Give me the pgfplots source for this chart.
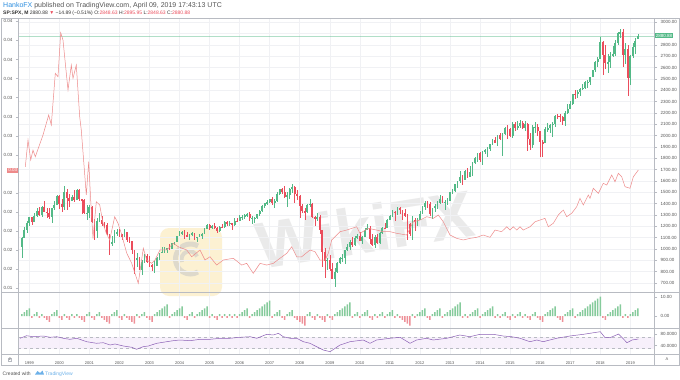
\documentclass[border=0pt]{standalone}
\usepackage{pgfplots}
\pgfplotsset{compat=1.18}
\usepackage{pgfplotstable}
\usepackage{fontspec}
\setmainfont{Liberation Sans}
\definecolor{upc}{HTML}{53B987}
\definecolor{dnc}{HTML}{EB4D5C}
\definecolor{redl}{HTML}{EE8A8A}
\definecolor{histg}{HTML}{86CB9C}
\definecolor{histr}{HTML}{EE9098}
\definecolor{rsil}{HTML}{8A5FB5}
\definecolor{rsib}{HTML}{F6EEFB}
\definecolor{gridc}{HTML}{F0F1F4}
\definecolor{framec}{HTML}{B8BBC2}
\definecolor{labc}{HTML}{555555}
\definecolor{tvblue}{HTML}{2E8FE0}
\definecolor{wmy}{HTML}{FBE6AE}

\pgfplotstableread{
yr mo o h l c s
1998 10 1017 1103 923 1099 1
1998 11 1099 1193 1095 1164 2
1998 12 1164 1245 1137 1229 3
1999 1 1229 1280 1205 1280 4
1999 2 1280 1285 1208 1238 -1
1999 3 1238 1317 1234 1286 1
1999 4 1286 1362 1284 1335 2
1999 5 1335 1372 1288 1302 -1
1999 6 1302 1376 1278 1373 1
1999 7 1373 1419 1328 1329 -1
1999 8 1329 1360 1270 1320 -2
1999 9 1320 1357 1268 1283 -3
1999 10 1283 1363 1233 1363 1
1999 11 1363 1425 1347 1389 2
1999 12 1389 1474 1387 1469 3
2000 1 1469 1479 1350 1394 -1
2000 2 1394 1444 1325 1366 -2
2000 3 1366 1553 1339 1499 1
2000 4 1499 1527 1339 1452 -1
2000 5 1452 1481 1374 1421 -2
2000 6 1421 1475 1420 1455 1
2000 7 1455 1517 1414 1431 -1
2000 8 1431 1525 1431 1518 1
2000 9 1518 1531 1420 1437 -1
2000 10 1437 1437 1305 1429 -2
2000 11 1429 1439 1305 1315 -3
2000 12 1315 1389 1255 1320 1
2001 1 1320 1384 1275 1366 2
2001 2 1366 1376 1228 1240 -1
2001 3 1240 1268 1081 1160 -2
2001 4 1160 1269 1092 1249 1
2001 5 1249 1316 1240 1256 2
2001 6 1256 1287 1203 1224 -1
2001 7 1224 1239 1183 1211 -2
2001 8 1211 1226 1124 1134 -3
2001 9 1134 1134 945 1041 -4
2001 10 1041 1111 1026 1060 1
2001 11 1060 1163 1054 1139 2
2001 12 1139 1173 1115 1148 3
2002 1 1148 1176 1101 1130 -1
2002 2 1130 1131 1075 1107 -2
2002 3 1107 1173 1107 1147 1
2002 4 1147 1147 1063 1077 -1
2002 5 1077 1107 1049 1067 -2
2002 6 1067 1070 953 990 -3
2002 7 990 994 775 912 -4
2002 8 912 965 838 916 1
2002 9 916 925 815 815 -1
2002 10 815 900 768 886 1
2002 11 886 951 872 936 2
2002 12 936 954 872 880 -1
2003 1 880 935 840 856 -2
2003 2 856 864 806 841 -3
2003 3 841 895 789 848 1
2003 4 848 925 847 917 2
2003 5 917 965 902 964 3
2003 6 964 1015 963 975 4
2003 7 975 1015 962 990 5
2003 8 990 1011 960 1008 6
2003 9 1008 1040 988 996 -1
2003 10 996 1054 996 1051 1
2003 11 1051 1063 1031 1058 2
2003 12 1058 1112 1058 1112 3
2004 1 1112 1155 1110 1131 4
2004 2 1131 1159 1124 1145 5
2004 3 1145 1164 1087 1126 -1
2004 4 1126 1151 1107 1107 -2
2004 5 1107 1128 1076 1121 1
2004 6 1121 1146 1113 1141 2
2004 7 1141 1141 1078 1102 -1
2004 8 1102 1109 1060 1104 1
2004 9 1104 1131 1102 1115 2
2004 10 1115 1142 1090 1130 3
2004 11 1130 1188 1128 1174 4
2004 12 1174 1218 1174 1212 5
2005 1 1212 1218 1163 1181 -1
2005 2 1181 1212 1180 1204 1
2005 3 1204 1229 1176 1181 -1
2005 4 1181 1192 1137 1157 -2
2005 5 1157 1199 1146 1192 1
2005 6 1192 1219 1188 1191 -1
2005 7 1191 1245 1184 1234 1
2005 8 1234 1245 1201 1220 -1
2005 9 1220 1243 1206 1229 1
2005 10 1229 1233 1168 1207 -1
2005 11 1207 1270 1202 1249 1
2005 12 1249 1276 1246 1248 -1
2006 1 1248 1295 1245 1280 1
2006 2 1280 1297 1253 1281 2
2006 3 1281 1310 1268 1295 3
2006 4 1295 1319 1280 1311 4
2006 5 1311 1327 1245 1270 -1
2006 6 1270 1287 1219 1271 1
2006 7 1271 1283 1225 1277 2
2006 8 1277 1307 1264 1304 3
2006 9 1304 1340 1291 1336 4
2006 10 1336 1389 1326 1378 5
2006 11 1378 1407 1363 1401 6
2006 12 1401 1432 1386 1418 7
2007 1 1418 1442 1405 1438 8
2007 2 1438 1462 1390 1407 -1
2007 3 1407 1439 1364 1421 1
2007 4 1421 1499 1416 1482 2
2007 5 1482 1533 1476 1531 3
2007 6 1531 1541 1484 1503 -1
2007 7 1503 1556 1450 1455 -2
2007 8 1455 1504 1371 1474 1
2007 9 1474 1539 1439 1527 2
2007 10 1527 1576 1490 1549 3
2007 11 1549 1555 1407 1481 -1
2007 12 1481 1523 1435 1468 -2
2008 1 1468 1472 1271 1379 -3
2008 2 1379 1396 1317 1331 -4
2008 3 1331 1359 1257 1323 -5
2008 4 1323 1396 1315 1386 1
2008 5 1386 1441 1373 1400 2
2008 6 1400 1405 1272 1280 -1
2008 7 1280 1292 1200 1267 -2
2008 8 1267 1314 1248 1283 1
2008 9 1283 1303 1134 1166 -1
2008 10 1166 1168 840 969 -2
2008 11 969 1007 741 896 -3
2008 12 896 919 815 903 1
2009 1 903 944 805 826 -1
2009 2 826 876 735 735 -2
2009 3 735 832 667 798 1
2009 4 798 888 783 873 2
2009 5 873 930 867 919 3
2009 6 919 957 888 920 4
2009 7 920 993 870 987 5
2009 8 987 1040 979 1021 6
2009 9 1021 1081 991 1057 7
2009 10 1057 1101 1020 1036 -1
2009 11 1036 1113 1029 1096 1
2009 12 1096 1130 1086 1115 2
2010 1 1115 1151 1071 1074 -1
2010 2 1074 1113 1045 1104 1
2010 3 1104 1181 1102 1169 2
2010 4 1169 1220 1167 1187 3
2010 5 1187 1206 1040 1089 -1
2010 6 1089 1131 1028 1031 -2
2010 7 1031 1120 1011 1102 1
2010 8 1102 1130 1040 1049 -1
2010 9 1049 1149 1040 1141 1
2010 10 1141 1196 1131 1183 2
2010 11 1183 1227 1174 1181 -1
2010 12 1181 1263 1181 1258 1
2011 1 1258 1303 1257 1286 2
2011 2 1286 1345 1284 1327 3
2011 3 1327 1332 1249 1326 -1
2011 4 1326 1366 1295 1364 1
2011 5 1364 1371 1311 1345 -1
2011 6 1345 1346 1258 1321 -2
2011 7 1321 1356 1282 1292 -3
2011 8 1292 1307 1075 1219 -4
2011 9 1219 1230 1114 1131 -5
2011 10 1131 1292 1075 1253 1
2011 11 1253 1277 1159 1247 -1
2011 12 1247 1269 1202 1258 1
2012 1 1258 1333 1258 1312 2
2012 2 1312 1378 1311 1366 3
2012 3 1366 1419 1340 1408 4
2012 4 1408 1422 1357 1398 -1
2012 5 1398 1415 1292 1310 -2
2012 6 1310 1364 1267 1362 1
2012 7 1362 1392 1325 1379 2
2012 8 1379 1426 1355 1407 3
2012 9 1407 1475 1397 1441 4
2012 10 1441 1470 1403 1412 -1
2012 11 1412 1434 1343 1416 1
2012 12 1416 1448 1385 1426 2
2013 1 1426 1504 1426 1498 3
2013 2 1498 1531 1486 1515 4
2013 3 1515 1570 1502 1569 5
2013 4 1569 1598 1536 1598 6
2013 5 1598 1688 1581 1631 7
2013 6 1631 1654 1560 1606 -1
2013 7 1606 1698 1605 1686 1
2013 8 1686 1710 1628 1633 -1
2013 9 1633 1730 1633 1682 1
2013 10 1682 1766 1646 1757 2
2013 11 1757 1813 1747 1806 3
2013 12 1806 1849 1768 1848 4
2014 1 1848 1851 1770 1783 -1
2014 2 1783 1867 1738 1859 1
2014 3 1859 1884 1834 1872 2
2014 4 1872 1897 1814 1884 3
2014 5 1884 1925 1860 1924 4
2014 6 1924 1968 1915 1960 5
2014 7 1960 1992 1931 1931 -1
2014 8 1931 2006 1905 2003 1
2014 9 2003 2019 1965 1972 -1
2014 10 1972 2019 1821 2018 1
2014 11 2018 2075 2001 2068 2
2014 12 2068 2094 1972 2059 -1
2015 1 2059 2065 1988 1995 -2
2015 2 1995 2120 1981 2105 1
2015 3 2105 2118 2040 2068 -1
2015 4 2068 2126 2048 2086 1
2015 5 2086 2135 2067 2107 2
2015 6 2107 2130 2056 2063 -1
2015 7 2063 2133 2044 2104 1
2015 8 2104 2113 1867 1972 -1
2015 9 1972 2021 1872 1920 -2
2015 10 1920 2094 1893 2079 1
2015 11 2079 2117 2019 2080 2
2015 12 2080 2104 1993 2044 -1
2016 1 2044 2044 1812 1940 -2
2016 2 1940 1962 1810 1932 -3
2016 3 1932 2073 1931 2060 1
2016 4 2060 2111 2034 2065 2
2016 5 2065 2103 2025 2097 3
2016 6 2097 2121 1992 2099 4
2016 7 2099 2178 2075 2174 5
2016 8 2174 2194 2148 2171 -1
2016 9 2171 2188 2120 2168 -2
2016 10 2168 2169 2097 2126 -3
2016 11 2126 2214 2084 2199 1
2016 12 2199 2278 2187 2239 2
2017 1 2239 2301 2234 2279 3
2017 2 2279 2371 2272 2364 4
2017 3 2364 2401 2322 2363 -1
2017 4 2363 2399 2329 2384 1
2017 5 2384 2419 2352 2412 2
2017 6 2412 2454 2405 2423 3
2017 7 2423 2484 2408 2470 4
2017 8 2470 2491 2417 2472 5
2017 9 2472 2519 2446 2519 6
2017 10 2519 2582 2519 2575 7
2017 11 2575 2657 2557 2648 8
2017 12 2648 2695 2605 2674 9
2018 1 2674 2873 2674 2824 10
2018 2 2824 2836 2533 2714 -1
2018 3 2714 2801 2586 2641 -2
2018 4 2641 2718 2553 2648 1
2018 5 2648 2742 2595 2705 2
2018 6 2705 2791 2698 2718 3
2018 7 2718 2848 2699 2816 4
2018 8 2816 2916 2796 2902 5
2018 9 2902 2941 2865 2914 6
2018 10 2914 2940 2604 2712 -1
2018 11 2712 2816 2631 2760 1
2018 12 2760 2800 2346 2507 -1
2019 1 2507 2708 2444 2704 1
2019 2 2704 2813 2681 2784 2
2019 3 2784 2860 2723 2834 3
2019 4 2848.63 2895.95 2848.63 2880.88 4
}\spx

\pgfplotstableread{
t v
1998.867 0.02675
1998.957 0.02955
1999.047 0.02746
1999.123 0.02850
1999.200 0.02780
1999.456 0.03008
1999.646 0.03218
1999.732 0.03113
1999.865 0.03655
1999.955 0.03619
2000.045 0.04081
2000.121 0.04004
2000.288 0.03480
2000.398 0.03742
2000.454 0.03602
2000.564 0.03742
2000.677 0.03200
2000.730 0.03060
2000.897 0.02379
2000.977 0.02728
2001.043 0.02326
2001.120 0.01924
2001.230 0.02308
2001.343 0.02274
2001.453 0.02082
2001.562 0.01977
2001.676 0.01907
2001.842 0.02151
2001.952 0.02082
2002.062 0.01977
2002.241 0.01770
2002.408 0.01662
2002.627 0.01452
2002.794 0.01820
2002.907 0.01697
2003.073 0.01662
2003.183 0.01697
2003.349 0.01802
2003.572 0.01802
2003.792 0.01872
2003.958 0.01836
2004.238 0.01802
2004.404 0.01731
2004.681 0.01802
2004.847 0.01697
2005.013 0.01731
2005.236 0.01644
2005.456 0.01697
2005.789 0.01715
2006.068 0.01644
2006.235 0.01662
2006.454 0.01557
2006.677 0.01662
2006.900 0.01644
2007.120 0.01662
2007.343 0.01715
2007.566 0.01767
2007.732 0.01836
2007.899 0.01731
2008.065 0.01731
2008.341 0.01802
2008.507 0.01784
2008.674 0.01697
2008.840 0.01697
2008.950 0.01767
2009.063 0.01907
2009.339 0.01994
2009.562 0.02011
2009.895 0.02046
2010.005 0.01977
2010.281 0.02029
2010.561 0.02011
2010.780 0.01994
2011.003 0.01994
2011.226 0.01977
2011.559 0.01959
2011.779 0.02098
2012.002 0.02116
2012.225 0.02151
2012.444 0.02134
2012.611 0.02169
2012.777 0.02098
2013.000 0.01959
2013.223 0.01924
2013.443 0.01907
2013.666 0.01924
2013.889 0.01935
2014.108 0.01959
2014.331 0.01935
2014.498 0.02011
2014.720 0.01994
2014.887 0.02046
2014.997 0.02011
2015.106 0.02046
2015.220 0.02011
2015.329 0.02046
2015.439 0.02011
2015.662 0.02046
2015.829 0.02098
2015.995 0.02116
2016.161 0.02134
2016.271 0.02046
2016.438 0.02082
2016.604 0.02169
2016.771 0.02221
2016.884 0.02151
2017.050 0.02187
2017.216 0.02256
2017.326 0.02344
2017.436 0.02274
2017.602 0.02379
2017.659 0.02344
2017.769 0.02449
2017.935 0.02396
2018.101 0.02501
2018.215 0.02483
2018.381 0.02588
2018.491 0.02518
2018.601 0.02606
2018.714 0.02570
2018.824 0.02466
2018.990 0.02449
2019.101 0.02570
2019.268 0.02641
}\ratio

\pgfplotstableread{
t r
1998.69 64.7
1998.91 73.3
1999.13 70
1999.47 72.3
1999.69 68
1999.91 70
2000.13 64.7
2000.35 61.3
2000.58 64.7
2000.91 53.3
2001.24 48
2001.46 50
2001.69 42.3
2001.85 45.7
2002.13 39
2002.41 34.7
2002.57 28
2002.79 36.7
2002.96 39
2003.24 48
2003.57 53.3
2003.79 56.7
2004.01 59
2004.35 56.7
2004.68 61.3
2005.01 61.3
2005.35 64.7
2005.68 64.7
2006.01 68
2006.35 70
2006.57 64.7
2006.90 78
2007.12 75.7
2007.29 81.3
2007.45 70
2007.68 64.7
2007.90 64.7
2008.12 53.3
2008.34 48
2008.56 36.7
2008.78 25.7
2009.01 20
2009.34 42.3
2009.67 53.3
2010.11 59
2010.34 48
2010.56 59
2011.00 64.7
2011.34 68
2011.67 48
2011.89 59
2012.22 64.7
2012.44 59
2012.89 64.7
2013.33 75.7
2013.66 70
2014.00 78
2014.44 78
2014.77 72.3
2015.05 70
2015.33 64.7
2015.66 53.3
2015.89 59
2016.10 53.3
2016.55 64.7
2016.99 72.3
2017.44 78
2018.00 86.7
2018.16 66.7
2018.33 66.7
2018.61 79
2018.89 50
2019.06 59
2019.27 62.3
}\rsi

\pgfplotsset{
  tvpanel/.style={
    scale only axis, width=636.4pt, anchor=south west,
    xmin=1998.634, xmax=2019.812,
    axis line style={draw=none},
    xtick={1999,2000,...,2019}, xticklabels={}, xtick style={draw=none},
    ytick style={draw=framec, line width=0.4pt},
    major tick length=2.5pt, tick align=outside,
    yticklabel style={font=\fontsize{4.5}{5}\selectfont, text=labc},
    /pgf/number format/assume math mode=true,
    scaled y ticks=false,
    grid style={draw=gridc, line width=0.5pt},
  },
  candle/.style 2 args={draw=none, no markers, forget plot,
    error bars/y dir=both, error bars/y explicit, error bars/error mark=none,
    error bars/error bar style={draw=#1, solid, line width=#2}},
}

\begin{document}
\begin{tikzpicture}
\useasboundingbox (0,0) rectangle (680pt,-380pt);
\fill[white] (0,0) rectangle (680pt,-380pt);

% watermark
\begin{scope}[opacity=0.55]
\fill[wmy, rounded corners=9pt] (160pt,-228pt) rectangle (222pt,-296pt);
\draw[gray!45, line width=5pt] (198pt,-246pt) arc (60:300:15pt);
\draw[gray!45, line width=4pt] (182pt,-262pt) arc (200:20:8pt);
\node[rotate=9, font=\fontsize{66}{66}\selectfont\bfseries, text=gray!30] at (365pt,-229pt) {WikiFX};
\end{scope}

% main price panel
\begin{axis}[tvpanel, at={(18.3pt,-292.7pt)}, height=274.2pt,
  ymin=613.4, ymax=3033.5,
  xmajorgrids, ymajorgrids,
  ytick={700,800,...,2800,3000},
  extra y ticks={2900}, extra y tick labels={},
  ytick pos=right, yticklabel pos=right,
  yticklabel style={/pgf/number format/.cd, fixed, fixed zerofill, precision=2, 1000 sep={}},
  clip mode=individual]
\addplot[draw=upc, draw opacity=0.45, line width=0.4pt, forget plot] coordinates {(1998.634,2880.88) (2019.812,2880.88)};
% wicks
\addplot[candle={upc}{0.5pt}, restrict expr to domain={\thisrow{c}-\thisrow{o}}{0:100000}]
  table[x expr=\thisrow{yr}+(\thisrow{mo}-1)/12, y expr=(\thisrow{h}+\thisrow{l})/2, y error expr=(\thisrow{h}-\thisrow{l})/2] {\spx};
\addplot[candle={dnc}{0.5pt}, restrict expr to domain={\thisrow{c}-\thisrow{o}}{-100000:-0.001}]
  table[x expr=\thisrow{yr}+(\thisrow{mo}-1)/12, y expr=(\thisrow{h}+\thisrow{l})/2, y error expr=(\thisrow{h}-\thisrow{l})/2] {\spx};
% bodies
\addplot[candle={upc}{1.8pt}, restrict expr to domain={\thisrow{c}-\thisrow{o}}{0:100000}]
  table[x expr=\thisrow{yr}+(\thisrow{mo}-1)/12, y expr=(\thisrow{o}+\thisrow{c})/2, y error expr=abs(\thisrow{c}-\thisrow{o})/2] {\spx};
\addplot[candle={dnc}{1.8pt}, restrict expr to domain={\thisrow{c}-\thisrow{o}}{-100000:-0.001}]
  table[x expr=\thisrow{yr}+(\thisrow{mo}-1)/12, y expr=(\thisrow{o}+\thisrow{c})/2, y error expr=abs(\thisrow{c}-\thisrow{o})/2] {\spx};
\node[anchor=west, fill=upc, text=white, inner sep=1pt, font=\fontsize{4.5}{5}\selectfont] at (axis cs:2019.812,2880.88) {2880.88};
\end{axis}

% ratio line (left scale)
\begin{axis}[tvpanel, at={(18.3pt,-292.7pt)}, height=274.2pt,
  ymin=0.01354, ymax=0.04230,
  ytick={0.014,0.016,0.018,0.020,0.022,0.024,0.028,0.030,0.032,0.034,0.036,0.038,0.040,0.042},
  yticklabels={0.01,0.02,0.02,0.02,0.02,0.02,0.03,0.03,0.03,0.03,0.04,0.04,0.04,0.04},
  ytick pos=left, yticklabel pos=left, clip mode=individual]
\addplot[draw=redl, line width=0.5pt, mark=none] table[x=t, y=v] {\ratio};
\node[anchor=east, fill=redl, text=white, inner sep=1pt, font=\fontsize{4.5}{5}\selectfont] at (axis cs:1998.634,0.0264) {0.03};
\end{axis}

% histogram panel
\begin{axis}[tvpanel, at={(18.3pt,-328.3pt)}, height=35.6pt,
  ymin=-6.37, ymax=12.07, xmajorgrids,
  ytick={0,10}, yticklabels={0.00,10.00},
  ytick pos=right, yticklabel pos=right]
\addplot[ybar, bar shift=0pt, bar width=1.5pt, fill=histg, draw=none,
  restrict expr to domain={\thisrow{s}}{0:100}]
  table[x expr=\thisrow{yr}+(\thisrow{mo}-1)/12, y=s] {\spx};
\addplot[ybar, bar shift=0pt, bar width=1.5pt, fill=histr, draw=none,
  restrict expr to domain={\thisrow{s}}{-100:-0.5}]
  table[x expr=\thisrow{yr}+(\thisrow{mo}-1)/12, y=s] {\spx};
\end{axis}

% RSI panel
\begin{axis}[tvpanel, at={(18.3pt,-354pt)}, height=25.7pt,
  ymin=12.3, ymax=98, xmajorgrids,
  ytick={40,80}, yticklabels={40.0000,80.0000},
  ytick pos=right, yticklabel pos=right,
  xticklabels={1999,2000,2001,2002,2003,2004,2005,2006,2007,2008,2009,2010,2011,2012,2013,2014,2015,2016,2017,2018,2019},
  xticklabel style={font=\fontsize{4}{5}\selectfont, text=labc, yshift=-1.5pt}]
\fill[rsib, fill opacity=0.85] (axis cs:1998.634,30) rectangle (axis cs:2019.812,70);
\draw[framec, dashed, line width=0.4pt] (axis cs:1998.634,70) -- (axis cs:2019.812,70);
\draw[framec, dashed, line width=0.4pt] (axis cs:1998.634,30) -- (axis cs:2019.812,30);
\addplot[draw=rsil, line width=0.5pt, mark=none] table[x=t, y=r] {\rsi};
\end{axis}

% frames
\draw[framec, line width=0.5pt] (1pt,-18.5pt) rectangle (679pt,-365pt);
\draw[framec, line width=0.5pt] (18.3pt,-18.5pt) -- (18.3pt,-365pt);
\draw[framec, line width=0.5pt] (654.7pt,-18.5pt) -- (654.7pt,-365pt);
\draw[framec, line width=0.5pt] (1pt,-292.7pt) -- (679pt,-292.7pt);
\draw[framec, line width=0.5pt] (1pt,-328.3pt) -- (679pt,-328.3pt);
\draw[framec, line width=0.5pt] (1pt,-354pt) -- (679pt,-354pt);
\node[draw=framec, inner sep=0.6pt, font=\fontsize{3.5}{4}\selectfont, text=labc] at (10pt,-359.5pt) {Z};
\node[font=\fontsize{4}{5}\selectfont, text=labc] at (667pt,-359.5pt) {A};

% header
\node[anchor=base west, inner sep=0, font=\fontsize{7}{8}\selectfont, text=labc] at (3pt,-7.5pt) {\textcolor{tvblue}{HankoFX} published on TradingView.com, April 09, 2019 17:43:13 UTC};
\node[anchor=base west, inner sep=0, font=\fontsize{5}{6}\selectfont, text=black!80] at (3pt,-14.5pt) {\textbf{SP:SPX, M} 2880.88 \textcolor{dnc}{▼} −14.89 (−0.51\%) O:\textcolor{dnc}{2848.63} H:\textcolor{dnc}{2895.95} L:\textcolor{dnc}{2848.63} C:\textcolor{dnc}{2880.88}};

% footer
\node[anchor=base west, inner sep=0, font=\fontsize{5}{6}\selectfont, text=labc] at (2.5pt,-375pt) {Created with};
\fill[tvblue!70] (35pt,-374.5pt) -- (37.5pt,-371pt) -- (40pt,-373pt) -- (42.5pt,-370.5pt) -- (44pt,-374.5pt) -- cycle;
\node[anchor=base west, inner sep=0, font=\fontsize{5}{6}\selectfont, text=tvblue!70] at (45pt,-375pt) {TradingView};
\end{tikzpicture}
\end{document}
